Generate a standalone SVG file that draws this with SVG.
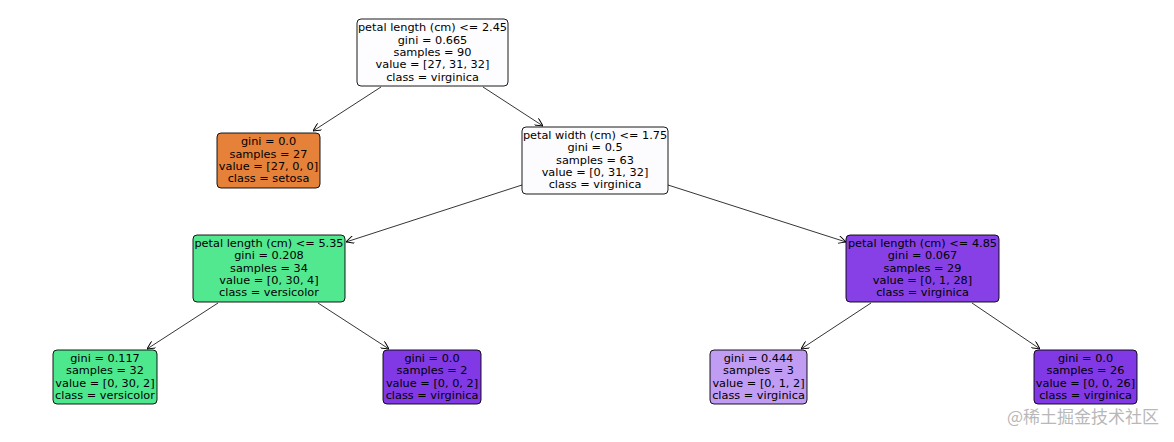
<svg xmlns="http://www.w3.org/2000/svg" width="1174" height="442" viewBox="0 0 1174 442">
<defs>
<marker id="ah" viewBox="0 0 10 10" refX="10" refY="5" markerWidth="8" markerHeight="8" orient="auto" markerUnits="userSpaceOnUse"><path d="M0,0 L10,5 L0,10" fill="none" stroke="#000" stroke-width="1.2"/></marker>
<style>
rect{stroke:#000;stroke-width:0.9}
text{font-family:"DejaVu Sans",sans-serif;font-size:11.3px;text-anchor:middle;fill:#000}
#edges line{stroke:#000;stroke-width:0.8;marker-end:url(#ah)}
</style>
</defs>
<rect width="1174" height="442" fill="#fff" style="stroke:none"/>
<g id="edges">
<line x1="381" y1="87" x2="313" y2="131"/>
<line x1="483" y1="87" x2="543" y2="126"/>
<line x1="522" y1="185" x2="346" y2="242"/>
<line x1="668" y1="185" x2="846" y2="242"/>
<line x1="218" y1="303" x2="147" y2="349"/>
<line x1="318" y1="303" x2="389" y2="349"/>
<line x1="871" y1="303" x2="801" y2="349"/>
<line x1="972" y1="303" x2="1040" y2="349"/>
</g>
<g id="n0"><rect x="357" y="19" width="151" height="67" rx="4" fill="#fdfcff"/>
<text x="432.5" y="31">petal length (cm) &lt;= 2.45</text><text x="432.5" y="43.5">gini = 0.665</text><text x="432.5" y="56">samples = 90</text><text x="432.5" y="68">value = [27, 31, 32]</text><text x="432.5" y="80.5">class = virginica</text></g>
<g id="n1"><rect x="217" y="133" width="103" height="55" rx="4" fill="#e58139"/>
<text x="268.5" y="145">gini = 0.0</text><text x="268.5" y="157.5">samples = 27</text><text x="268.5" y="169.5">value = [27, 0, 0]</text><text x="268.5" y="181.5">class = setosa</text></g>
<g id="n2"><rect x="522" y="127" width="146" height="67" rx="4" fill="#fcfbfe"/>
<text x="595" y="139">petal width (cm) &lt;= 1.75</text><text x="595" y="151">gini = 0.5</text><text x="595" y="163.5">samples = 63</text><text x="595" y="175.5">value = [0, 31, 32]</text><text x="595" y="188">class = virginica</text></g>
<g id="n3"><rect x="193" y="235" width="152" height="67" rx="4" fill="#52e890"/>
<text x="269" y="247">petal length (cm) &lt;= 5.35</text><text x="269" y="259">gini = 0.208</text><text x="269" y="271.5">samples = 34</text><text x="269" y="283.5">value = [0, 30, 4]</text><text x="269" y="296">class = versicolor</text></g>
<g id="n4"><rect x="846" y="235" width="153" height="67" rx="4" fill="#8640e6"/>
<text x="922.5" y="247">petal length (cm) &lt;= 4.85</text><text x="922.5" y="259">gini = 0.067</text><text x="922.5" y="271.5">samples = 29</text><text x="922.5" y="283.5">value = [0, 1, 28]</text><text x="922.5" y="296">class = virginica</text></g>
<g id="n5"><rect x="53" y="350" width="104" height="54" rx="4" fill="#4de88e"/>
<text x="105" y="362">gini = 0.117</text><text x="105" y="374">samples = 32</text><text x="105" y="386.5">value = [0, 30, 2]</text><text x="105" y="398.5">class = versicolor</text></g>
<g id="n6"><rect x="383" y="350" width="98" height="54" rx="4" fill="#8139e5"/>
<text x="432" y="362">gini = 0.0</text><text x="432" y="374">samples = 2</text><text x="432" y="386.5">value = [0, 0, 2]</text><text x="432" y="398.5">class = virginica</text></g>
<g id="n7"><rect x="710" y="350" width="97" height="54" rx="4" fill="#c09cf2"/>
<text x="758.5" y="362">gini = 0.444</text><text x="758.5" y="374">samples = 3</text><text x="758.5" y="386.5">value = [0, 1, 2]</text><text x="758.5" y="398.5">class = virginica</text></g>
<g id="n8"><rect x="1034" y="350" width="103" height="54" rx="4" fill="#8139e5"/>
<text x="1085.5" y="362">gini = 0.0</text><text x="1085.5" y="374">samples = 26</text><text x="1085.5" y="386.5">value = [0, 0, 26]</text><text x="1085.5" y="398.5">class = virginica</text></g>
<text x="1159" y="423" style="text-anchor:end;font-family:'Noto Sans CJK SC',sans-serif;font-size:17px;fill:#b8b8b8">@稀土掘金技术社区</text>
</svg>
